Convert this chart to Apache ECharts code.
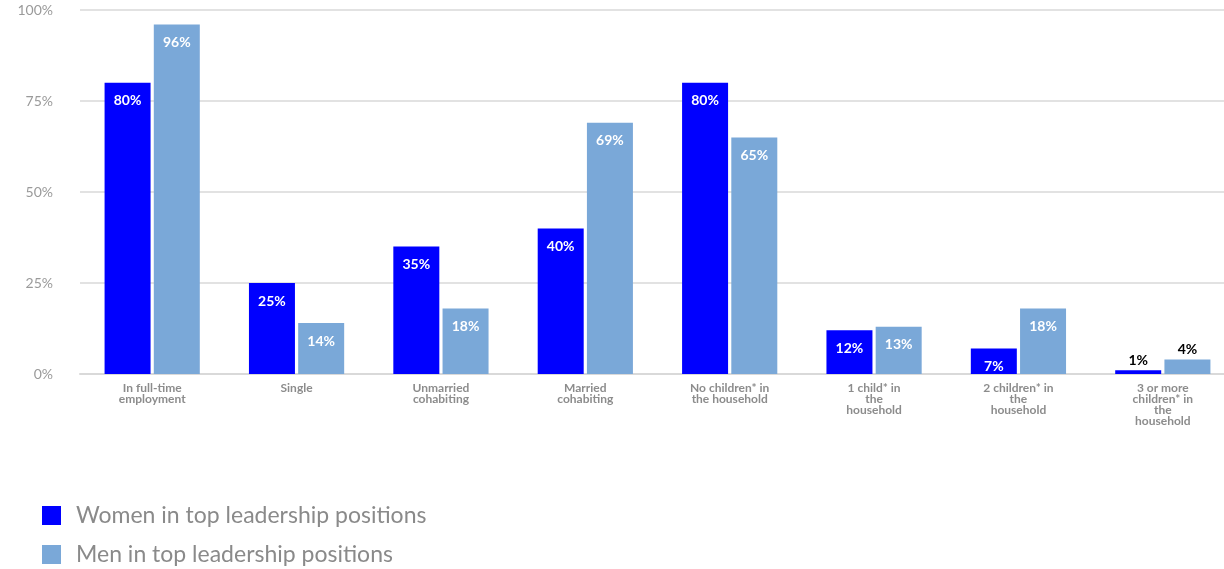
<!DOCTYPE html>
<html><head><meta charset="utf-8">
<script src="https://cdn.jsdelivr.net/npm/echarts@6/dist/echarts.min.js"></script>
<style>html,body{margin:0;padding:0;background:#fff}#c{width:1224px;height:569px}</style>
</head><body><div id="c"></div>
<script>
const categories = ["In full-time\nemployment","Single","Unmarried\ncohabiting","Married\ncohabiting","No children* in\nthe household","1 child* in\nthe\nhousehold","2 children* in\nthe\nhousehold","3 or more\nchildren* in\nthe\nhousehold"];
const women = [80,25,35,40,80,12,7,1];
const men = [96,14,18,69,65,13,18,4];
const yTicks = [0,25,50,75,100];
const seriesNames = ["Women in top leadership positions","Men in top leadership positions"];
const FONT = "Lato";
function dataWithLabels(vals){
  return vals.map(v => v < 6 ? {value:v,label:{position:'top',color:'#000',distance:3}} : v);
}
const legendText = {fontSize:23,color:'#8a8a8a',fontFamily:FONT,padding:[0,0,0,10]};
const chart = echarts.init(document.getElementById('c'));
chart.setOption({
  animation:false,
  textStyle:{fontFamily:FONT},
  grid:{left:80,top:10,right:-11,bottom:195,containLabel:false,outerBoundsMode:'none'},
  legend:[
    {orient:'horizontal',left:42,top:504,itemWidth:19,itemHeight:19,icon:'rect',data:[seriesNames[0]],textStyle:legendText,padding:0},
    {orient:'horizontal',left:42,top:543,itemWidth:19,itemHeight:19,icon:'rect',data:[seriesNames[1]],textStyle:legendText,padding:0}
  ],
  xAxis:{type:'category',data:categories,
    axisLine:{lineStyle:{color:'#d9d9d9',width:2}},axisTick:{show:false},
    axisLabel:{color:'#8c8c8c',fontWeight:'bold',fontSize:12,lineHeight:11,margin:9,interval:0}},
  yAxis:{type:'value',min:0,max:100,interval:25,
    axisLabel:{formatter:v=>yTicks.includes(v)?v+'%':'',color:'#9a9a9a',fontSize:14,margin:27},
    splitLine:{lineStyle:{color:'#d9d9d9',width:1.5}},axisLine:{show:false},axisTick:{show:false}},
  series:[
    {name:seriesNames[0],type:'bar',data:dataWithLabels(women),barWidth:46,barGap:'7%',
     itemStyle:{color:'#0000ff'},
     label:{show:true,position:'insideTop',distance:11,formatter:'{c}%',color:'#fff',fontWeight:'bold',fontSize:14,fontFamily:FONT}},
    {name:seriesNames[1],type:'bar',data:dataWithLabels(men),barWidth:46,
     itemStyle:{color:'#7aa8d8'},
     label:{show:true,position:'insideTop',distance:11,formatter:'{c}%',color:'#fff',fontWeight:'bold',fontSize:14,fontFamily:FONT}}
  ]
});
</script></body></html>
